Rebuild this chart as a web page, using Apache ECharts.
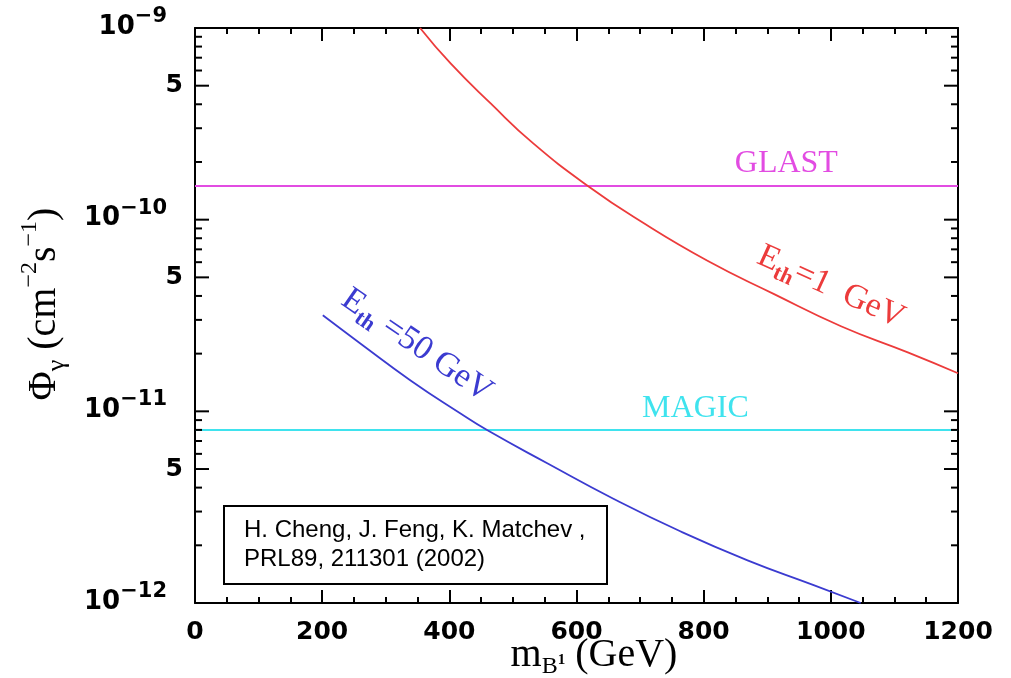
<!DOCTYPE html>
<html>
<head>
<meta charset="utf-8">
<script src="https://cdn.jsdelivr.net/npm/echarts@6/dist/echarts.min.js"></script>
<style>
  html, body { margin: 0; padding: 0; background: #fff; }
  #chart { width: 1011px; height: 678px; }
</style>
</head>
<body>
<div id="chart"></div>
<script>
// Integrated gamma-ray flux from Kaluza-Klein photon (B1) annihilation vs. its mass,
// for two photon energy thresholds, compared with GLAST and MAGIC sensitivities.

// E_th = 1 GeV curve
const massLow = [354, 402, 465, 532, 619, 701, 806, 910, 1016, 1121, 1200];
const fluxLow = [1.0e-9, 6.53e-10, 4.04e-10, 2.50e-10, 1.49e-10, 9.8e-11, 6.1e-11, 4.1e-11, 2.78e-11, 2.03e-11, 1.58e-11];

// E_th = 50 GeV curve
const massHigh = [201, 260, 339, 417, 460, 554, 658, 764, 869, 973, 1047];
const fluxHigh = [3.17e-11, 2.26e-11, 1.45e-11, 9.77e-12, 7.96e-12, 5.36e-12, 3.50e-12, 2.36e-12, 1.67e-12, 1.24e-12, 1.0e-12];

// Detector sensitivities (horizontal lines)
const glastFlux = 1.5e-10;
const magicFlux = 8e-12;

// Axes
const massRange = [0, 1200];
const massStep = 200;
const fluxRange = [1e-12, 1e-9];
const yDecades = [1e-12, 1e-11, 1e-10, 1e-9];
const yDecadeExponents = ['\u221212', '\u221211', '\u221210', '\u22129'];
const yHalfTicks = [5e-12, 5e-11, 5e-10];
const yHalfLabels = ['5', '5', '5'];
const yMinorMantissas = [2, 3, 4, 6, 7, 8, 9];

// Texts
const curveLabelLow = ['E', 'th', '=1  GeV'];
const curveLabelHigh = ['E', 'th', ' =50 GeV'];
const detectorNames = ['GLAST', 'MAGIC'];
const citationLines = ['H. Cheng, J. Feng, K. Matchev ,', 'PRL89, 211301 (2002)'];

const RED = '#ec3b3b';
const BLUE = '#3b3bd0';
const MAGENTA = '#e24ce2';
const CYAN = '#3fe3ee';
const SERIF = '"Liberation Serif", "Times New Roman", serif';
const SANS = '"DejaVu Sans", sans-serif';

// y-axis tick list for a log axis: decades, halves, and 2..9 minors
const yTicks = [];
yDecades.forEach((d, i) => yTicks.push({ v: d, kind: 'decade', label: yDecadeExponents[i] }));
yHalfTicks.forEach((d, i) => yTicks.push({ v: d, kind: 'half', label: yHalfLabels[i] }));
yDecades.slice(0, -1).forEach(d => yMinorMantissas.forEach(m => yTicks.push({ v: m * d, kind: 'minor' })));

function renderYTicks(params, api) {
  const t = yTicks[params.dataIndex];
  const v = api.value(1);
  const pl = api.coord([massRange[0], v]);
  const pr = api.coord([massRange[1], v]);
  const len = t.kind === 'minor' ? 7 : 14;
  const stroke = { stroke: '#000', lineWidth: 2 };
  const children = [
    { type: 'line', shape: { x1: pl[0], y1: pl[1], x2: pl[0] + len, y2: pl[1] }, style: stroke },
    { type: 'line', shape: { x1: pr[0], y1: pr[1], x2: pr[0] - len, y2: pr[1] }, style: stroke }
  ];
  if (t.kind === 'decade') {
    children.push({
      type: 'text', x: pl[0] - 28, y: pl[1] - 5,
      style: {
        text: '{b|10}{s|' + t.label + '}',
        align: 'right', verticalAlign: 'middle', fill: '#000',
        rich: {
          b: { fontSize: 26, fontWeight: 'bold', fontFamily: SANS, lineHeight: 34, verticalAlign: 'bottom', fill: '#000' },
          s: { fontSize: 21, fontWeight: 'bold', fontFamily: SANS, verticalAlign: 'top', fill: '#000' }
        }
      }
    });
  } else if (t.kind === 'half') {
    children.push({
      type: 'text', x: pl[0] - 12, y: pl[1],
      style: { text: t.label, fontSize: 25, fontWeight: 'bold', fontFamily: SANS, fill: '#000', align: 'right', verticalAlign: 'middle' }
    });
  }
  return { type: 'group', children };
}

// In-plot annotations: detector names and rotated curve labels
const annotations = [
  { at: [930, glastFlux], dy: -22, rot: 0, color: MAGENTA, text: detectorNames[0], plain: true },
  { at: [787, magicFlux], dy: -21, rot: 0, color: CYAN, text: detectorNames[1], plain: true },
  { at: [349, 2.2e-11], dy: 0, rot: -34.5, color: BLUE, parts: curveLabelHigh },
  { at: [1000, 4.45e-11], dy: 0, rot: -24.5, color: RED, parts: curveLabelLow }
];

function renderAnnotation(params, api) {
  const a = annotations[params.dataIndex];
  const p = api.coord([api.value(0), api.value(1)]);
  let style;
  if (a.plain) {
    style = { text: a.text, fontSize: 32, fontFamily: SERIF, fill: a.color, align: 'center', verticalAlign: 'middle' };
  } else {
    style = {
      text: '{e|' + a.parts[0] + '}{t|' + a.parts[1] + '}{e|' + a.parts[2] + '}',
      align: 'center', verticalAlign: 'middle', fill: a.color,
      rich: {
        e: { fontSize: 34, fontFamily: SERIF, lineHeight: 42, verticalAlign: 'middle', fill: a.color },
        t: { fontSize: 22, fontFamily: SERIF, fontWeight: 'bold', verticalAlign: 'bottom', fill: a.color }
      }
    };
  }
  return { type: 'text', x: p[0], y: p[1] + a.dy, rotation: a.rot * Math.PI / 180, style };
}

const xAxisCommon = {
  type: 'value', min: massRange[0], max: massRange[1], interval: massStep,
  axisLine: { show: true, onZero: false, lineStyle: { color: '#000', width: 2 } },
  axisTick: { show: true, inside: true, length: 13, lineStyle: { color: '#000', width: 2 } },
  minorTick: { show: true, splitNumber: 4, length: 6, lineStyle: { color: '#000', width: 2 } },
  splitLine: { show: false }
};
const yAxisCommon = {
  type: 'log', logBase: 10, min: fluxRange[0], max: fluxRange[1],
  axisLine: { show: true, onZero: false, lineStyle: { color: '#000', width: 2 } },
  axisTick: { show: false }, axisLabel: { show: false }, splitLine: { show: false }
};

const chart = echarts.init(document.getElementById('chart'), null, { renderer: 'canvas' });
chart.setOption({
  animation: false,
  backgroundColor: '#fff',
  grid: { left: 195, right: 53, top: 28, bottom: 75 },
  xAxis: [
    Object.assign({}, xAxisCommon, {
      position: 'bottom',
      axisLabel: {
        show: true, margin: 17, fontSize: 25, fontWeight: 'bold', fontFamily: SANS, color: '#000',
        formatter: v => String(v)
      }
    }),
    Object.assign({}, xAxisCommon, { position: 'top', axisLabel: { show: false } })
  ],
  yAxis: [
    Object.assign({}, yAxisCommon, { position: 'left' }),
    Object.assign({}, yAxisCommon, { position: 'right' })
  ],
  series: [
    {
      name: 'GLAST', type: 'line', symbol: 'none', silent: true,
      data: [[massRange[0], glastFlux], [massRange[1], glastFlux]],
      lineStyle: { color: MAGENTA, width: 2 }
    },
    {
      name: 'MAGIC', type: 'line', symbol: 'none', silent: true,
      data: [[massRange[0], magicFlux], [massRange[1], magicFlux]],
      lineStyle: { color: CYAN, width: 2 }
    },
    {
      name: 'E_th = 1 GeV', type: 'line', symbol: 'none', smooth: 0.5, silent: true,
      data: massLow.map((m, i) => [m, fluxLow[i]]),
      lineStyle: { color: RED, width: 1.8 }
    },
    {
      name: 'E_th = 50 GeV', type: 'line', symbol: 'none', smooth: 0.5, silent: true,
      data: massHigh.map((m, i) => [m, fluxHigh[i]]),
      lineStyle: { color: BLUE, width: 1.8 }
    },
    {
      type: 'custom', silent: true, clip: false, z: 5,
      renderItem: renderYTicks,
      data: yTicks.map(t => [massRange[0], t.v])
    },
    {
      type: 'custom', silent: true, clip: false, z: 6,
      renderItem: renderAnnotation,
      data: annotations.map(a => a.at)
    }
  ],
  graphic: [
    {
      type: 'text', x: 594, y: 655, z: 10,
      style: {
        text: '{b|m}{sb|B}{ss|1}{b| (GeV)}',
        align: 'center', verticalAlign: 'middle', fill: '#000',
        rich: {
          b: { fontSize: 40, fontFamily: SERIF, lineHeight: 48, verticalAlign: 'middle', fill: '#000' },
          sb: { fontSize: 24, fontFamily: SERIF, verticalAlign: 'bottom', fill: '#000' },
          ss: { fontSize: 15, fontFamily: SERIF, fontWeight: 'bold', height: 38, verticalAlign: 'bottom', fill: '#000' }
        }
      }
    },
    {
      type: 'text', x: 44, y: 304, rotation: Math.PI / 2, z: 10,
      style: {
        text: '{b|\u03A6}{sub|\u03B3}{b| (cm}{sup|\u22122}{b|s}{sup|\u22121}{b|)}',
        align: 'center', verticalAlign: 'middle', fill: '#000',
        rich: {
          b: { fontSize: 40, fontFamily: SERIF, lineHeight: 52, verticalAlign: 'middle', fill: '#000' },
          sub: { fontSize: 26, fontFamily: SERIF, verticalAlign: 'bottom', fill: '#000' },
          sup: { fontSize: 24, fontFamily: SERIF, verticalAlign: 'top', fill: '#000' }
        }
      }
    },
    {
      type: 'group', left: 223, top: 505, z: 20,
      children: [
        { type: 'rect', shape: { x: 0, y: 0, width: 383, height: 78 }, style: { fill: '#fff', stroke: '#000', lineWidth: 2 } },
        { type: 'text', x: 20, y: 24, style: { text: citationLines[0], fontSize: 24, fontFamily: '"Liberation Sans", Arial, sans-serif', fill: '#000', verticalAlign: 'middle' } },
        { type: 'text', x: 20, y: 53, style: { text: citationLines[1], fontSize: 24, fontFamily: '"Liberation Sans", Arial, sans-serif', fill: '#000', verticalAlign: 'middle' } }
      ]
    }
  ]
});
</script>
</body>
</html>
